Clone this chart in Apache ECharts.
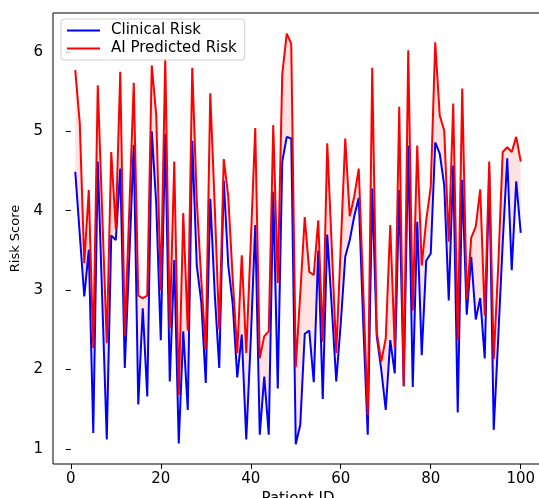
<!DOCTYPE html>
<html>
<head>
<meta charset="utf-8">
<script src="https://cdn.jsdelivr.net/npm/echarts@6/dist/echarts.min.js"></script>
<style>
  html, body { margin: 0; padding: 0; background: #fff; }
  #chart { width: 539px; height: 498px; }
</style>
</head>
<body>
<div id="chart"></div>
<script>
// patient ids 1..100
const patientIds = [];
for (let i = 1; i <= 100; i++) patientIds.push(i);

const clinicalRisk = [
  4.49, 3.70, 2.92, 3.51, 1.20, 4.62, 2.87, 1.12, 3.69, 3.63,
  4.53, 2.02, 3.40, 4.83, 1.56, 2.77, 1.66, 5.00, 4.08, 2.37,
  4.97, 1.85, 3.38, 1.07, 2.48, 1.49, 4.88, 3.31, 2.85, 1.83,
  4.15, 2.95, 2.02, 4.38, 3.31, 2.82, 1.90, 2.44, 1.12, 2.37,
  3.82, 1.18, 1.91, 1.18, 4.24, 1.76, 4.62, 4.93, 4.91, 1.06,
  1.30, 2.45, 2.49, 1.84, 3.50, 1.63, 3.70, 2.79, 1.85, 2.58,
  3.42, 3.63, 3.93, 4.16, 2.58, 1.18, 4.28, 2.42, 2.00, 1.49,
  2.37, 1.95, 4.26, 1.79, 4.82, 1.78, 3.86, 2.18, 3.37, 3.46,
  4.86, 4.72, 4.32, 2.87, 4.57, 1.46, 4.39, 2.69, 3.42, 2.63,
  2.90, 2.14, 4.50, 1.24, 2.40, 3.60, 4.66, 3.25, 4.37, 3.72
];

const aiPredictedRisk = [
  5.77, 5.10, 3.34, 4.26, 2.27, 5.58, 3.95, 2.33, 4.74, 3.77,
  5.75, 2.42, 4.00, 5.61, 2.93, 2.90, 2.93, 5.83, 5.20, 3.00,
  5.92, 2.52, 4.62, 1.68, 3.97, 2.49, 5.80, 4.13, 3.13, 2.25,
  5.48, 4.05, 2.50, 4.65, 4.18, 3.13, 2.21, 3.44, 2.21, 3.60,
  5.04, 2.14, 2.42, 2.48, 5.08, 3.09, 5.72, 6.23, 6.10, 2.03,
  2.95, 3.92, 3.23, 3.19, 3.88, 2.35, 4.85, 3.55, 2.21, 3.55,
  4.91, 3.93, 4.18, 4.53, 3.00, 1.43, 5.80, 2.47, 2.10, 2.39,
  3.82, 2.27, 5.31, 1.79, 6.02, 2.74, 4.82, 3.31, 3.88, 4.30,
  6.12, 5.20, 5.01, 3.61, 5.35, 2.37, 5.54, 2.88, 3.66, 3.80,
  4.27, 2.68, 4.62, 2.13, 3.30, 4.74, 4.80, 4.74, 4.93, 4.62
];

const xTicks = [0, 20, 40, 60, 80, 100];
const yTicks = [1, 2, 3, 4, 5, 6];

const pair = (ys) => patientIds.map((x, i) => [x, ys[i]]);

const chart = echarts.init(document.getElementById("chart"));
const txt = { color: "#000", fontFamily: "DejaVu Sans", fontSize: 15 };

// shaded band between the two lines (fill_between)
function renderBand(params, api) {
  if (params.dataIndex !== 0) return;
  const pts = [];
  patientIds.forEach((x, i) => pts.push(api.coord([x, aiPredictedRisk[i]])));
  for (let i = patientIds.length - 1; i >= 0; i--) {
    pts.push(api.coord([patientIds[i], clinicalRisk[i]]));
  }
  return {
    type: "polygon",
    shape: { points: pts },
    style: { fill: "rgba(255,0,0,0.11)", stroke: null },
  };
}

const option = {
  animation: false,
  backgroundColor: "#fff",
  grid: {
    left: 53,
    top: 13,
    right: -4,
    bottom: 34,
    outerBoundsMode: "none",
    containLabel: false,
    show: true,
    borderColor: "#000",
    borderWidth: 1,
    backgroundColor: "transparent",
  },
  legend: {
    orient: "vertical",
    left: 61,
    top: 19,
    padding: [4, 8, 4, 6],
    itemGap: 3,
    itemWidth: 33,
    itemHeight: 2,
    icon: "rect",
    borderColor: "#d0d0d0",
    borderWidth: 1,
    borderRadius: 3,
    backgroundColor: "rgba(255,255,255,0.8)",
    data: ["Clinical Risk", "AI Predicted Risk"],
    textStyle: Object.assign({}, txt, { padding: [0, 0, 0, 6] }),
  },
  xAxis: {
    type: "value",
    min: -3.95,
    max: 104.95,
    name: "Patient ID",
    nameLocation: "middle",
    nameGap: 27,
    nameTextStyle: txt,
    axisLine: { show: false },
    splitLine: { show: false },
    axisTick: {
      show: true,
      inside: false,
      length: 5,
      customValues: xTicks,
      lineStyle: { color: "#000" },
    },
    axisLabel: Object.assign({ customValues: xTicks, margin: 8 }, txt),
  },
  yAxis: {
    type: "value",
    min: 0.81,
    max: 6.49,
    name: "Risk Score",
    nameLocation: "middle",
    nameGap: 30,
    nameRotate: 90,
    nameTextStyle: Object.assign({}, txt, { fontSize: 13 }),
    axisLine: { show: false },
    splitLine: { show: false },
    axisTick: {
      show: true,
      inside: false,
      length: 5,
      customValues: yTicks,
      lineStyle: { color: "#000" },
    },
    axisLabel: Object.assign({ customValues: yTicks, margin: 10 }, txt),
  },
  series: [
    {
      name: "band",
      type: "custom",
      renderItem: renderBand,
      data: pair(clinicalRisk),
      silent: true,
      z: 1,
    },
    {
      name: "Clinical Risk",
      type: "line",
      data: pair(clinicalRisk),
      symbol: "none",
      color: "#0000ff",
      lineStyle: { color: "#0000ff", width: 2 },
      z: 2,
    },
    {
      name: "AI Predicted Risk",
      type: "line",
      data: pair(aiPredictedRisk),
      symbol: "none",
      color: "#ff0000",
      lineStyle: { color: "#ff0000", width: 2 },
      z: 3,
    },
  ],
};

option && chart.setOption(option, true);
</script>
</body>
</html>
